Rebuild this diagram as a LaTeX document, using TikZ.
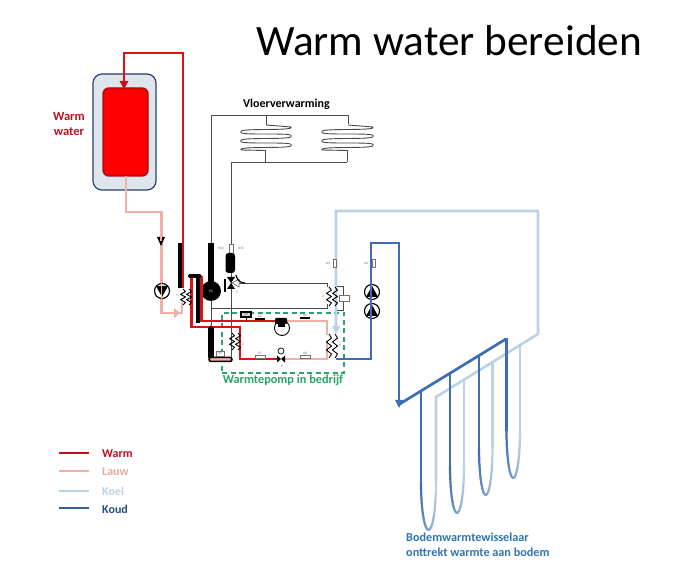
\documentclass[tikz,border=0pt]{standalone}
\usepackage{fontspec}
\setmainfont{Carlito}
\definecolor{warmc}{HTML}{DC1018}
\definecolor{darkred}{HTML}{C00F1A}
\definecolor{lauwc}{HTML}{F2AFA6}
\definecolor{koelc}{HTML}{BBD2E6}
\definecolor{koudc}{HTML}{3F6DB3}
\definecolor{thinc}{HTML}{4A4A4A}
\definecolor{greenc}{HTML}{2BA36B}
\definecolor{bodemc}{HTML}{2F75AE}
\definecolor{tinyc}{HTML}{707070}
\definecolor{tankfill}{HTML}{E0E5EC}
\tikzset{
  warm/.style={draw=warmc,line width=2.8pt,line join=miter},
  lauw/.style={draw=lauwc,line width=2.6pt,line join=miter},
  koel/.style={draw=koelc,line width=2.6pt,line join=miter},
  koud/.style={draw=koudc,line width=2.7pt,line join=miter},
  thin line/.style={draw=thinc,line width=0.9pt},
  tube/.style={draw=black,line width=6pt},
  zig/.style={draw=black,line width=0.9pt,line join=round},
  tinylabel/.style={text=tinyc,font=\fontsize{3.5}{4}\selectfont,inner sep=0pt},
  smallbox/.style={draw=tinyc,fill=white,line width=0.6pt},
  legendtext/.style={font=\fontsize{12}{14}\selectfont\bfseries,anchor=west,inner sep=0pt},
}
\newcommand{\zigzag}[3]{% x, ytop, ybottom
  \pgfmathsetmacro{\zs}{(#3-#2)/6}
  \draw[zig] (#1,#2) -- ++(2.5,\zs) -- ++(-5,\zs) -- ++(5,\zs) -- ++(-5,\zs) -- ++(5,\zs) -- ++(-2.5,\zs);
}
\newcommand{\coilshape}[4]{% xL, xR, ytop, x drop
  \draw[thin line] (#4,#3-2) -- (#2,#3)
    .. controls (#2+4,#3+4.5) and (#1-4,#3+0.5) .. (#1,#3+5)
    .. controls (#1-4,#3+9) and (#2+4,#3+5) .. (#2,#3+9)
    .. controls (#2+4,#3+13.5) and (#1-4,#3+9.5) .. (#1,#3+14)
    .. controls (#1-4,#3+18) and (#2+4,#3+14) .. (#2,#3+18)
    .. controls (#2+4,#3+22.5) and (#1-4,#3+18.5) .. (#1,#3+23)
    -- (#4,#3+23.5);
}
\newcommand{\utube}[4]{% xdark, xlight, ybottom, ytop dark
  \pgfmathsetmacro{\ua}{(#2-#1)/2}
  \pgfmathsetmacro{\uc}{(#1+#2)/2}
  \pgfmathsetmacro{\uy}{#3-47}
  \draw[koud,line width=2.2pt] (#1,#4) -- (#1,\uy);
  \foreach \i in {0,...,17}{
    \pgfmathsetmacro{\tha}{\i*10}
    \pgfmathsetmacro{\thb}{(\i+1)*10}
    \pgfmathsetmacro{\pp}{100-\i*100/17}
    \draw[line width=2.2pt,color=koudc!\pp!koelc,line cap=round]
      ({\uc-\ua*cos(\tha)},{\uy+47*sin(\tha)}) -- ({\uc-\ua*cos(\thb)},{\uy+47*sin(\thb)});
  }
}
\begin{document}
\begin{tikzpicture}[x=1pt,y=-1pt]
\useasboundingbox (0,0) rectangle (681,572);
\fill[white] (0,0) rectangle (681,572);

% title and texts
\node[inner sep=0pt,font=\fontsize{43.3}{46}\selectfont] (title) at (449,41) {Warm water bereiden};
\node[inner sep=0pt,align=center,text=darkred,font=\fontsize{12.5}{15}\selectfont\bfseries] (tankLabel) at (69,124) {Warm\\water};
\node[inner sep=0pt,font=\fontsize{12}{14}\selectfont\bfseries] (floor) at (286.5,104) {Vloerverwarming};
\node[inner sep=0pt,text=greenc,font=\fontsize{12.3}{14}\selectfont\bfseries] (hp) at (283,380) {Warmtepomp in bedrijf};
\node[inner sep=0pt,anchor=west,align=left,text=bodemc,font=\fontsize{12.2}{15}\selectfont\bfseries] (bodem) at (406,545) {Bodemwarmtewisselaar\\onttrekt warmte aan bodem};

% legend
\draw[warm,draw=darkred] (59,453) -- (89,453);
\draw[lauw] (59,471) -- (89,471);
\draw[koel] (59,491) -- (89,491);
\draw[koud,draw=koudc!85!black] (59,508) -- (89,508);
\node[legendtext,text=darkred] (l1) at (102,454) {Warm};
\node[legendtext,text=lauwc!90!gray] (l2) at (102,472) {Lauw};
\node[legendtext,text=koelc] (l3) at (102,491) {Koel};
\node[legendtext,text=koudc!70!black] (l4) at (102,509) {Koud};

% boiler tank
\draw[draw=koudc!60!black,fill=tankfill,line width=1.2pt,rounded corners=9pt] (93,74) rectangle (156,190);
\draw[draw=warmc!75!black,fill=red,line width=1.4pt,rounded corners=6pt] (103,88) rectangle (148,176);

% floor heating thin circuit
\draw[thin line] (211,325) -- (211,115) -- (348,115) -- (348,124);
\draw[thin line] (266,115) -- (266,125);
\coilshape{241}{291}{127}{266}
\coilshape{322}{373}{127}{348}
\draw[thin line] (265,150) -- (265,162);
\draw[thin line] (347,150) -- (347,162);
\draw[thin line] (231,360) -- (231,162) -- (347,162);
\draw[thin line] (235,283) -- (327,283) -- (327,287);
\draw[thin line] (211,308) -- (327,308) -- (327,304);

% tubes and pump of the floor heating
\draw[tube] (211,243) -- (211,285);
\fill[black] (211,291) circle (10);
\node[text=white,inner sep=0pt,font=\fontsize{3.5}{4}\selectfont] (p2) at (211,291) {P2};
\node[tinylabel] (r10) at (221,248) {R10};
\node[tinylabel] (r11) at (241,248) {R11};
\draw[smallbox] (229.5,244) rectangle (233,253);
\fill[black,rounded corners=3pt] (225.5,253) rectangle (235,273);

% three way valve
\fill[black] (227,277) -- (235,277) -- (231,283) -- cycle;
\fill[black] (227,289) -- (235,289) -- (231,283) -- cycle;
\draw[draw=thinc,fill=white,line width=0.5pt] (232,283) -- (239,279) -- (239,287) -- cycle;
\draw[black,line width=1.2pt] (225,279) -- (225,292);
\draw[black,line width=1.2pt] (236,275) .. controls (237,280) and (240,283) .. (245,283);
\node[tinylabel] (v) at (237,292) {5};

% heat pump box
\draw[greenc,line width=1.3pt,dash pattern=on 5pt off 3.5pt] (222,373) -- (344,373) -- (344,313) -- (222,313) -- cycle;

% lauw (primary, boiler return)
\draw[lauw] (126,176) -- (126,212) -- (161.5,212) -- (161.5,313) -- (182,313) -- (182,302);
\fill[lauwc] (174,308) -- (180,313) -- (174,318) -- cycle;
\draw[lauw] (285,321) -- (327,321) -- (327,335);
\draw[lauw] (285,359) -- (327,359) -- (327,342);

% warm
\draw[warm] (183,288) -- (183,53) -- (124,53) -- (124,84);
\fill[darkred] (119.5,81) -- (128.5,81) -- (124,89) -- cycle;
\draw[warm] (278,359) -- (240,359) -- (240,327) -- (191.5,327) -- (191.5,277) -- (201.5,277) -- (201.5,321) -- (277,321);
\draw[tube,line width=4.5pt] (180,243) -- (180,288);
\draw[tube,line width=3.5pt] (198,277) -- (198,323);
\draw[black,line width=4pt,line cap=round] (190,276) -- (199.5,276);

% condenser tube at the bottom
\draw[tube,line width=6.5pt] (211,328) -- (211,358);
\fill[black] (207.7,329) -- (211,325) -- (214.3,329) -- cycle;
\draw[black,fill=lauwc,line width=1.5pt,rounded corners=2pt] (209,357.5) rectangle (232,361.5);
\draw[smallbox] (216,351) rectangle (224,356);
\node[tinylabel] (r9) at (220,353.5) {R9};

% koel circuit
\draw[koel] (336,330) -- (336,211) -- (538,211) -- (538,334) -- (436,397) -- (436,483);
\fill[koelc] (332,326) -- (340,326) -- (336,334) -- cycle;
\draw[koel,line width=2.2pt] (464,380) -- (464,466);
\draw[koel,line width=2.2pt] (492.5,362) -- (492.5,448);
\draw[koel,line width=2.2pt] (520,345) -- (520,431);

% koud circuit
\draw[koud] (336,359) -- (371,359) -- (371,243) -- (399,243) -- (399,400);
\draw[koud] (398,405) -- (506,339);
\fill[koudc] (395,400) -- (403,400) -- (399,408) -- cycle;
\utube{421}{436}{530}{391}
\utube{450}{464}{513}{373.5}
\utube{479}{492.5}{495}{355.6}
\utube{506.5}{520}{478}{338}

% heat exchangers
\zigzag{183}{289}{305}
\zigzag{189}{289}{305}
\node[tinylabel] (e1) at (177,295) {1};
\zigzag{232}{333}{350}
\zigzag{238}{333}{350}
\node[tinylabel] (e2) at (243,344) {2};
\zigzag{329}{287}{306}
\zigzag{335}{287}{306}
\node[tinylabel] (e3) at (323,296) {3};
\zigzag{329}{334}{358}
\zigzag{335}{334}{358}
\node[tinylabel] (e4) at (340,345) {4};

% bracket with box at evaporator circuit
\draw[thin line,line width=0.7pt] (337,286) -- (343,286) -- (343,310) -- (337,310);
\draw[smallbox] (339,295) rectangle (349,301);

% pumps
\draw[black,line width=1.1pt,fill=white] (162,291) circle (7.5);
\fill[black] (156,286) -- (168,286) -- (162,297) -- cycle;
\draw[lauw,line width=1pt] (161.5,283) -- (161.5,299);
\fill[black] (157,237) -- (165,237) -- (161,246) -- cycle;
\fill[lauwc] (160.3,236) rectangle (162.3,241);
\draw[black,line width=1.1pt,fill=white] (372,292) circle (7.5);
\fill[black] (366,297) -- (378,297) -- (372,286) -- cycle;
\draw[black,line width=1.1pt,fill=white] (372,311) circle (7.5);
\fill[black] (366,316) -- (378,316) -- (372,305) -- cycle;
\draw[koud,line width=1.4pt] (371,284) -- (371,319);

% small sensor boxes on the cold side
\draw[smallbox] (333,259) rectangle (336,267);
\draw[smallbox] (372.5,259) rectangle (375,267);
\node[tinylabel] (a1) at (328,263) {A4};
\node[tinylabel] (a2) at (366,263) {A6};

% compressor
\draw[black,line width=0.9pt,fill=white] (282,328) circle (7.5);
\fill[black,rounded corners=1pt] (275,318) rectangle (287,324);
\fill[black] (278,323) rectangle (285,327);
\node[tinylabel] (c7) at (282,331) {7};

% expansion valve
\fill[black] (277,355.5) -- (285,362.5) -- (285,355.5) -- (277,362.5) -- cycle;
\draw[black,line width=0.7pt,fill=white] (281,351) circle (3);
\node[tinylabel] (ev) at (282,366) {P};

% sensors on hot gas and liquid lines
\draw[black,line width=1.3pt,fill=white!70!gray] (241,312) rectangle (251,317);
\draw[black,line width=0.7pt] (246,317) -- (246,320);
\node[tinylabel] (r8) at (246,314.5) {R8};
\fill[black] (255,318) rectangle (265,320);
\node[tinylabel] (ab) at (260,316) {A5};
\fill[black] (300,317) rectangle (310,319);
\node[tinylabel] (ac) at (305,315) {A6};
\draw[smallbox] (255,355.5) rectangle (265,358);
\node[tinylabel] (a7) at (260,353) {A7};
\draw[smallbox] (300,355.5) rectangle (310,358);
\node[tinylabel] (a8) at (305,353) {A8};
\end{tikzpicture}
\end{document}
